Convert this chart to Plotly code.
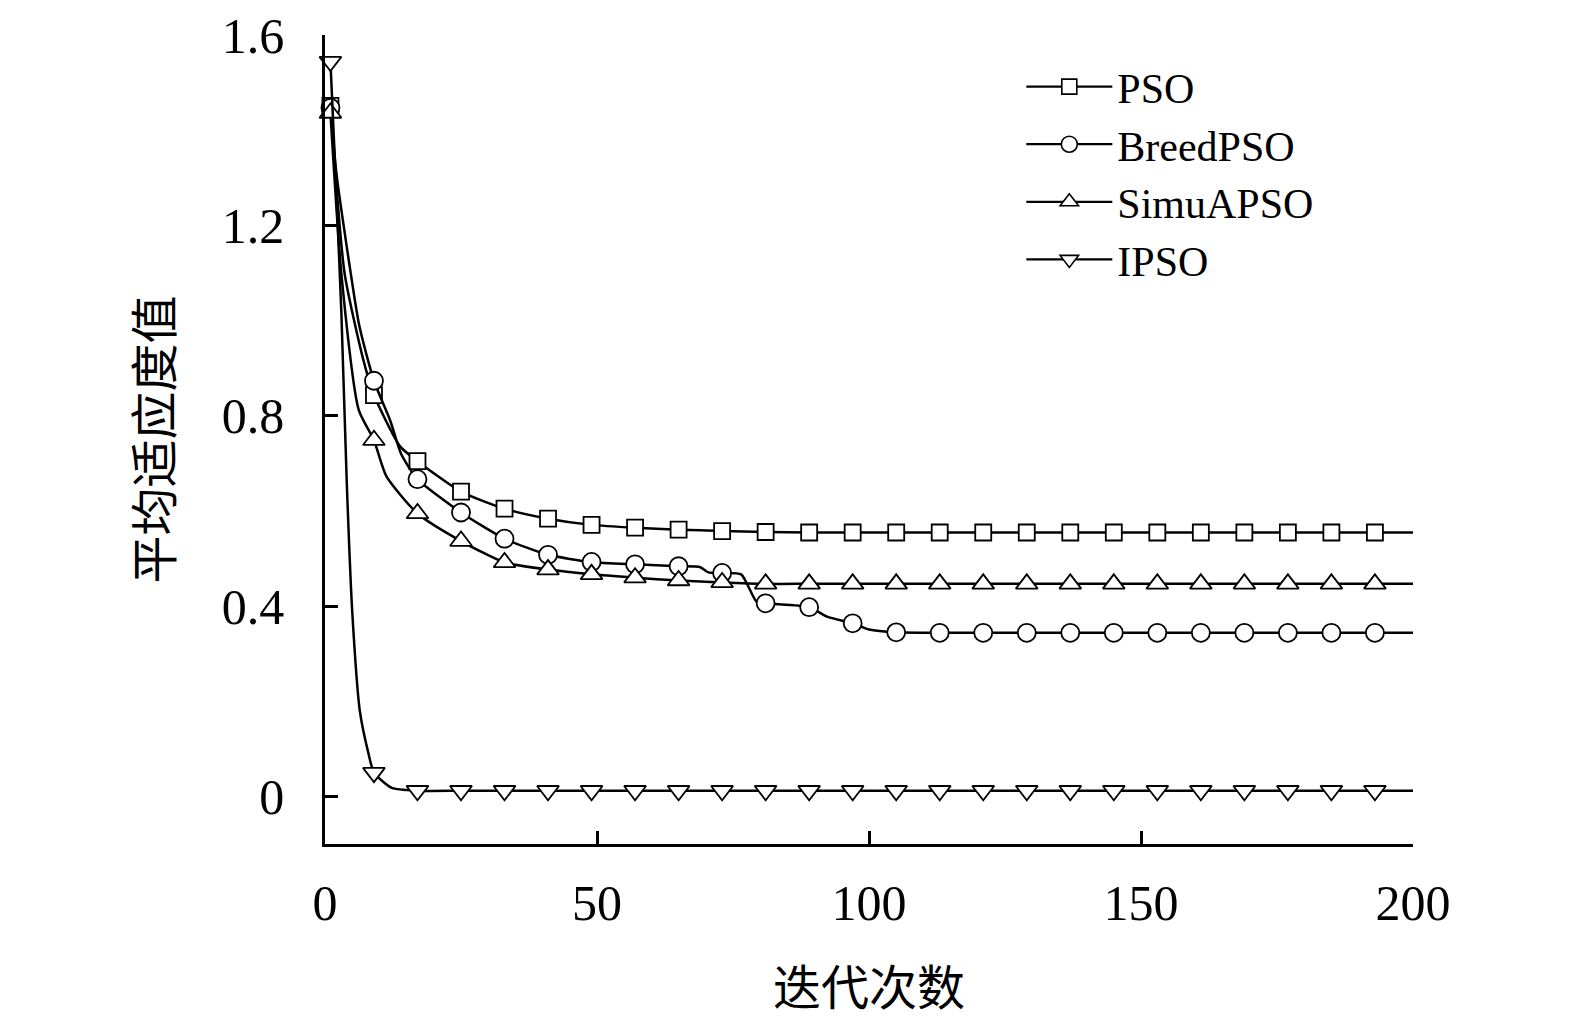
import plotly.graph_objs as go

# iterations where the curves carry a marker
mark_iters = [1, 9, 17, 25, 33, 41, 49, 57, 65, 73, 81, 89, 97, 105, 113,
              121, 129, 137, 145, 153, 161, 169, 177, 185, 193]

# curve points (x = 迭代次数, y = 平均适应度值)
pso_x = [1, 3.6, 7, 9, 13.8, 17, 25, 33, 41, 49, 57, 65, 73,
         81, 89, 97, 105, 113, 121, 129, 137, 145, 153, 161, 169, 177, 185, 193, 200]
pso_y = [1.452, 1.10, 0.92, 0.844, 0.736, 0.705, 0.641, 0.605, 0.584, 0.571, 0.565, 0.561, 0.558,
         0.556, 0.555, 0.555, 0.555, 0.555, 0.555, 0.555, 0.555, 0.555, 0.555, 0.555, 0.555, 0.555, 0.555, 0.555, 0.555]

breed_x = [1, 2.1, 3.6, 6.3, 9, 12, 14, 17, 25, 33, 41, 49, 57, 65, 69, 70.5, 73, 76.5, 79.3,
           81, 89, 92.3, 97, 100, 105, 113, 121, 129, 137, 145, 153, 161, 169, 177, 185, 193, 200]
breed_y = [1.448, 1.31, 1.187, 0.99, 0.874, 0.79, 0.72, 0.667, 0.597, 0.542, 0.508, 0.493, 0.488, 0.484, 0.482, 0.471, 0.470, 0.467, 0.41,
           0.406, 0.398, 0.378, 0.364, 0.351, 0.345, 0.344, 0.344, 0.344, 0.344, 0.344, 0.344, 0.344, 0.344, 0.344, 0.344, 0.344, 0.344]

simu_x = [1, 3, 6.2, 9, 11.3, 17, 25, 33, 41, 49, 57, 65, 73,
          81, 89, 97, 105, 113, 121, 129, 137, 145, 153, 161, 169, 177, 185, 193, 200]
simu_y = [1.437, 1.10, 0.813, 0.749, 0.673, 0.595, 0.537, 0.492, 0.477, 0.467, 0.460, 0.454, 0.450,
          0.447, 0.447, 0.447, 0.447, 0.447, 0.447, 0.447, 0.447, 0.447, 0.447, 0.447, 0.447, 0.447, 0.447, 0.447, 0.447]

ipso_x = [1, 2, 3, 4, 5, 6.4, 8, 9, 12.3, 17, 25, 33, 41, 49, 57, 65, 73,
          81, 89, 97, 105, 113, 121, 129, 137, 145, 153, 161, 169, 177, 185, 193, 200]
ipso_y = [1.545, 1.29, 1.02, 0.66, 0.39, 0.18, 0.09, 0.05, 0.018, 0.012, 0.012, 0.012, 0.012, 0.012, 0.012, 0.012, 0.012,
          0.012, 0.012, 0.012, 0.012, 0.012, 0.012, 0.012, 0.012, 0.012, 0.012, 0.012, 0.012, 0.012, 0.012, 0.012, 0.012]

series = [
    ("PSO", pso_x, pso_y, "square", 16),
    ("BreedPSO", breed_x, breed_y, "circle", 18),
    ("SimuAPSO", simu_x, simu_y, "triangle-up", 19),
    ("IPSO", ipso_x, ipso_y, "triangle-down", 19),
]

serif = "Liberation Serif, Times New Roman, serif"
cjk = "Noto Sans CJK SC, sans-serif"

traces = []
for name, xs, ys, symbol, size in series:
    # the curve itself
    traces.append(go.Scatter(x=xs, y=ys, mode="lines", showlegend=False,
                             line=dict(color="black", width=2.5, shape="spline", smoothing=0.6),
                             cliponaxis=False, hoverinfo="skip"))
    # markers every 8 iterations
    mx = [x for x in xs if x in mark_iters]
    my = [y for x, y in zip(xs, ys) if x in mark_iters]
    traces.append(go.Scatter(x=mx, y=my, mode="markers", showlegend=False, name=name,
                             marker=dict(symbol=symbol, size=size, color="white",
                                         line=dict(color="black", width=1.8)),
                             cliponaxis=False))
    # legend entry only
    traces.append(go.Scatter(x=[None], y=[None], mode="lines+markers", name=name,
                             line=dict(color="black", width=2.2),
                             marker=dict(symbol=symbol, size=size - 1, color="white",
                                         line=dict(color="black", width=1.6))))

fig = go.Figure(
    data=traces,
    layout=go.Layout(
        width=1575, height=1016,
        paper_bgcolor="white", plot_bgcolor="white",
        margin=dict(l=317, r=170, t=27, b=180, autoexpand=False),
        showlegend=True,
        legend=dict(x=0.64, y=0.978, xanchor="left", yanchor="top",
                    font=dict(family=serif, size=42, color="black"),
                    bgcolor="rgba(0,0,0,0)", itemwidth=86),
        xaxis=dict(range=[0, 200], tickvals=[0, 50, 100, 150, 200],
                   automargin=False, ticklabeloverflow="allow",
                   showline=True, linecolor="black", linewidth=2.5,
                   ticks="inside", ticklen=13, tickwidth=2.5, tickcolor="black",
                   showgrid=False, zeroline=False,
                   tickfont=dict(family=serif, size=50, color="black"),
                   ticklabelstandoff=13,
                   title=dict(text="迭代次数", standoff=42,
                              font=dict(family=cjk, size=48, color="black"))),
        yaxis=dict(range=[-0.1, 1.601], tickvals=[0, 0.4, 0.8, 1.2, 1.6],
                   ticktext=["0", "0.4", "0.8", "1.2", "1.6"],
                   automargin=False, ticklabeloverflow="allow",
                   showline=True, linecolor="black", linewidth=2.5,
                   ticks="inside", ticklen=13, tickwidth=2.5, tickcolor="black",
                   showgrid=False, zeroline=False,
                   tickfont=dict(family=serif, size=50, color="black"),
                   ticklabelstandoff=28,
                   title=dict(text="平均适应度值", standoff=34,
                              font=dict(family=cjk, size=48, color="black"))),
    ),
)

fig.write_html("out.html")
